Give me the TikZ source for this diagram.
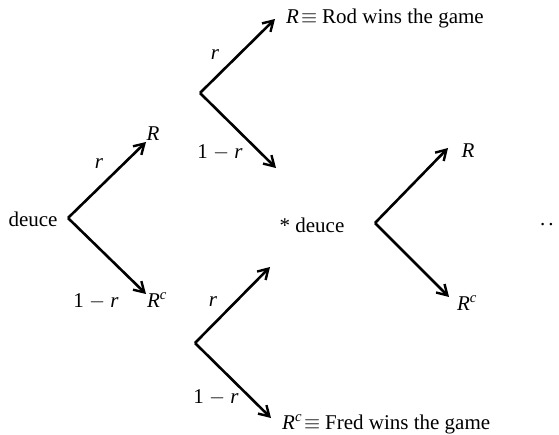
\documentclass[tikz,border=0pt]{standalone}
\usepackage{fontspec}
\setmainfont{Liberation Serif}
\usetikzlibrary{arrows.meta}
\begin{document}
\begin{tikzpicture}[x=1pt,y=-1pt,
  arr/.style={line width=2.6pt, -{Straight Barb[length=10pt,width=12pt,line width=2.4pt]}},
  lbl/.style={inner sep=0pt, font=\fontsize{21}{25}\selectfont}]
\useasboundingbox (0,0) rectangle (559,435);
% first fork
\node[lbl] (deuce) at (33,219) {deuce};
\coordinate (v1) at (68,218);
\coordinate (t1a) at (146,142);
\coordinate (t1b) at (146,294);
\node[lbl] (r1) at (99,164) {\textit{r}};
\node[lbl] (q1) at (96,301) {1~$-$~\textit{r}};
\node[lbl] (R1) at (153,134) {\textit{R}};
\node[lbl] (Rc1) at (157,300) {\textit{R}\textsuperscript{\textit{c}}};
\draw[arr] (v1) -- (t1a);
\draw[arr] (v1) -- (t1b);
% top fork
\coordinate (v2) at (200,93);
\coordinate (t2a) at (275,19);
\coordinate (t2b) at (276,168);
\node[lbl] (r2) at (215,55) {\textit{r}};
\node[lbl] (q2) at (220,152) {1~$-$~\textit{r}};
\node[lbl, anchor=west] (rod) at (286,18) {\textit{R}\kern2pt$\equiv$\kern5pt Rod wins the game};
\draw[arr] (v2) -- (t2a);
\draw[arr] (v2) -- (t2b);
% bottom fork
\coordinate (v3) at (195,343);
\coordinate (t3a) at (270,267);
\coordinate (t3b) at (271,418);
\node[lbl] (r3) at (213,302) {\textit{r}};
\node[lbl] (q3) at (216,397) {1~$-$~\textit{r}};
\node[lbl, anchor=west] (fred) at (282,424) {\textit{R}\textsuperscript{\textit{c}}\kern2pt$\equiv$\kern5pt Fred wins the game};
\draw[arr] (v3) -- (t3a);
\draw[arr] (v3) -- (t3b);
% middle fork
\node[lbl] (deuce2) at (312,225) {* deuce};
\coordinate (v4) at (375,223);
\coordinate (t4a) at (448,148);
\coordinate (t4b) at (449,297);
\node[lbl] (R4) at (468,151) {\textit{R}};
\node[lbl] (Rc4) at (467,303) {\textit{R}\textsuperscript{\textit{c}}};
\draw[arr] (v4) -- (t4a);
\draw[arr] (v4) -- (t4b);
\node[lbl, anchor=west] (dots) at (540,225) {.\kern3pt.};
\end{tikzpicture}
\end{document}
